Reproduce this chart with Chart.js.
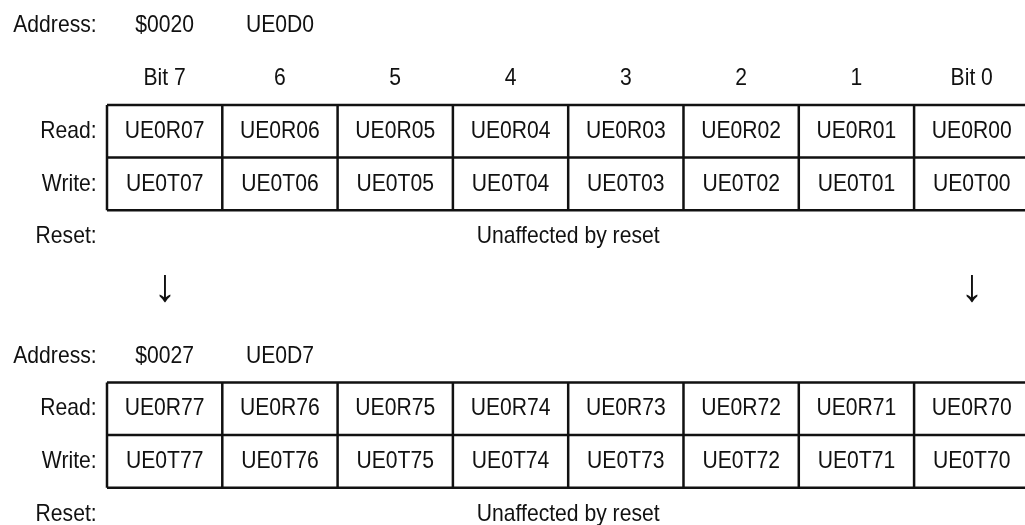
<!DOCTYPE html>
<html>
<head>
<meta charset="utf-8">
<script src="https://cdn.jsdelivr.net/npm/chart.js@4"></script>
<style>
  html, body { margin: 0; padding: 0; background: #fff; }
  #wrap { width: 1025px; height: 525px; }
</style>
</head>
<body>
<div id="wrap"><canvas id="regChart" width="1025" height="525"></canvas></div>
<script>
// register content
const bitLabels = ['Bit 7', '6', '5', '4', '3', '2', '1', 'Bit 0'];
const rowLabels = ['Read:', 'Write:'];
const addresses = ['$0020', '$0027'];
const regNames = ['UE0D0', 'UE0D7'];
const readBits0 = ['UE0R07', 'UE0R06', 'UE0R05', 'UE0R04', 'UE0R03', 'UE0R02', 'UE0R01', 'UE0R00'];
const writeBits0 = ['UE0T07', 'UE0T06', 'UE0T05', 'UE0T04', 'UE0T03', 'UE0T02', 'UE0T01', 'UE0T00'];
const readBits7 = ['UE0R77', 'UE0R76', 'UE0R75', 'UE0R74', 'UE0R73', 'UE0R72', 'UE0R71', 'UE0R70'];
const writeBits7 = ['UE0T77', 'UE0T76', 'UE0T75', 'UE0T74', 'UE0T73', 'UE0T72', 'UE0T71', 'UE0T70'];
const resetLabel = 'Reset:';
const resetText = 'Unaffected by reset';
const addressLabel = 'Address:';
const arrowColumns = [0, 7];

// two register blocks, y in row units (row = one table row)
const blocks = [
    { top: 0, addrRow: -1.51, bitsRow: -0.5, read: readBits0, write: writeBits0, addr: addresses[0], name: regNames[0] },
    { top: 5.275, addrRow: -0.5, bitsRow: null, read: readBits7, write: writeBits7, addr: addresses[1], name: regNames[1] }
];
const arrowRow = 3.48;
const resetRow = 2.5;

const FONT = '24px "Liberation Sans", Arial, sans-serif';
const SQUEEZE = 0.88; // source font is a narrow Helvetica
const INK = '#111';

function narrowText(ctx, t, x, y, align) {
    ctx.save();
    ctx.translate(x, y);
    ctx.scale(SQUEEZE, 1);
    ctx.textAlign = align;
    ctx.fillText(t, 0, 0);
    ctx.restore();
}

const registerPlugin = {
    id: 'registerTable',
    afterDraw(chart) {
        const ctx = chart.ctx;
        const x = chart.scales.x, y = chart.scales.y;
        const px = v => x.getPixelForValue(v);
        const py = v => y.getPixelForValue(v);
        const labelX = px(-0.09);

        ctx.save();
        ctx.fillStyle = INK;
        ctx.strokeStyle = INK;
        ctx.lineWidth = 2.5;
        ctx.font = FONT;
        ctx.textBaseline = 'middle';

        blocks.forEach(b => {
            // address line
            narrowText(ctx, addressLabel, labelX, py(b.top + b.addrRow), 'right');
            narrowText(ctx, b.addr, px(0.5), py(b.top + b.addrRow), 'center');
            narrowText(ctx, b.name, px(1.5), py(b.top + b.addrRow), 'center');

            if (b.bitsRow !== null) {
                bitLabels.forEach((t, i) => narrowText(ctx, t, px(i + 0.5), py(b.top + b.bitsRow), 'center'));
            }

            // grid
            ctx.beginPath();
            for (let r = 0; r <= 2; r++) {
                ctx.moveTo(px(0), py(b.top + r));
                ctx.lineTo(px(8), py(b.top + r));
            }
            for (let c = 0; c <= 8; c++) {
                ctx.moveTo(px(c), py(b.top));
                ctx.lineTo(px(c), py(b.top + 2));
            }
            ctx.stroke();

            // row labels and cells
            [b.read, b.write].forEach((cells, r) => {
                narrowText(ctx, rowLabels[r], labelX, py(b.top + r + 0.5), 'right');
                cells.forEach((t, i) => narrowText(ctx, t, px(i + 0.5), py(b.top + r + 0.5), 'center'));
            });

            narrowText(ctx, resetLabel, labelX, py(b.top + resetRow), 'right');
            narrowText(ctx, resetText, px(4), py(b.top + resetRow), 'center');
        });

        // arrows between the blocks
        ctx.font = '46px "Liberation Sans", "DejaVu Sans", sans-serif';
        ctx.textAlign = 'center';
        arrowColumns.forEach(c => ctx.fillText('\u2193', px(c + 0.5), py(arrowRow)));
        ctx.restore();
    }
};

new Chart(document.getElementById('regChart'), {
    type: 'scatter',
    data: { datasets: [] },
    options: {
        responsive: false,
        animation: false,
        layout: { padding: 0 },
        plugins: { legend: { display: false }, tooltip: { enabled: false } },
        scales: {
            x: { type: 'linear', display: false, min: -0.928, max: 7.962 },
            y: { type: 'linear', display: false, reverse: true, min: -1.996, max: 7.985 }
        }
    },
    plugins: [registerPlugin]
});
</script>
</body>
</html>
